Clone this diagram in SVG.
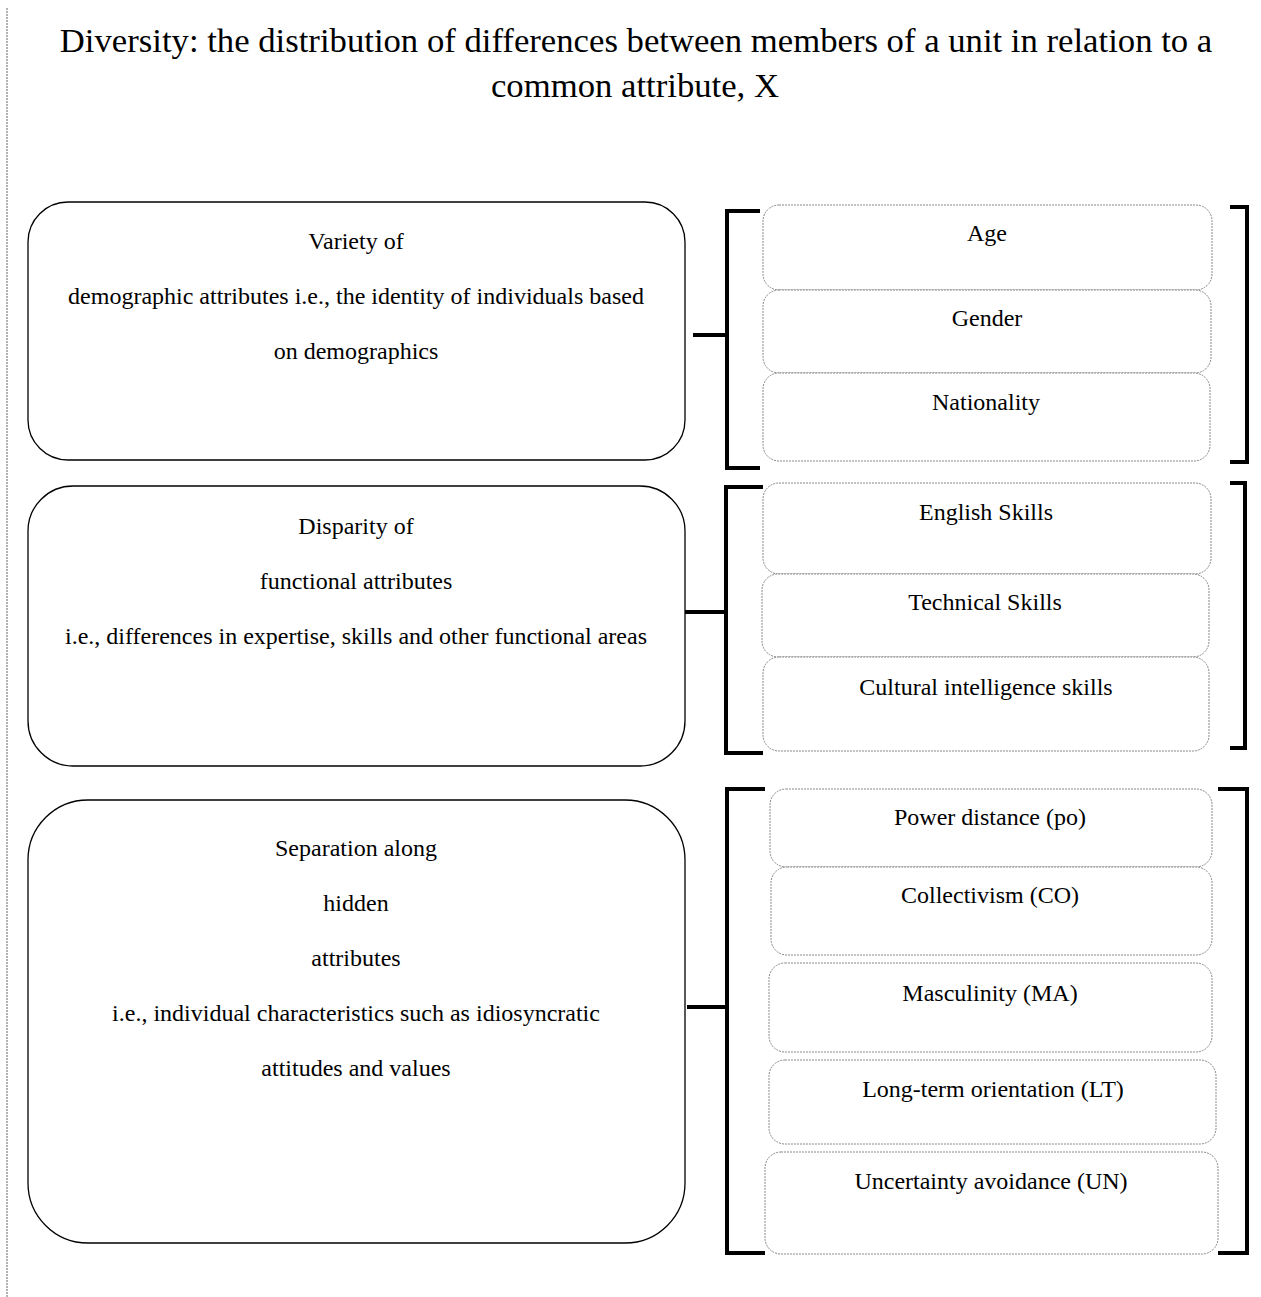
<svg xmlns="http://www.w3.org/2000/svg" width="1261" height="1297" viewBox="0 0 1261 1297">
<style>
text{font-family:"Liberation Serif","Times New Roman",serif;fill:#000;text-anchor:middle}
.t{font-size:34.7px}
.n{font-size:24px}
.s{font-size:24px}
.big{fill:#fff;stroke:#000;stroke-width:1.3}
.sm{fill:#fff;stroke:#888;stroke-width:1;stroke-dasharray:2 1}
.br{fill:none;stroke:#000;stroke-width:4}
</style>
<rect width="1261" height="1297" fill="#fff"/>
<line x1="7" y1="8" x2="7" y2="1297" stroke="#999" stroke-width="1.5" stroke-dasharray="2 1"/>
<g id="title">
<text class="t" x="636" y="52">Diversity: the distribution of differences between members of a unit in relation to a</text>
<text class="t" x="635" y="97">common attribute, X</text>
</g>
<g id="variety">
<rect class="big" x="28" y="202" width="657" height="258" rx="40"/>
<text class="n" x="356" y="249">Variety of</text>
<text class="n" x="356" y="304">demographic attributes i.e., the identity of individuals based</text>
<text class="n" x="356" y="359">on demographics</text>
</g>
<g id="disparity">
<rect class="big" x="28" y="486" width="657" height="280" rx="45"/>
<text class="n" x="356" y="534">Disparity of</text>
<text class="n" x="356" y="589">functional attributes</text>
<text class="n" x="356" y="644">i.e., differences in expertise, skills and other functional areas</text>
</g>
<g id="separation">
<rect class="big" x="28" y="800" width="657" height="443" rx="60"/>
<text class="n" x="356" y="856">Separation along</text>
<text class="n" x="356" y="911">hidden</text>
<text class="n" x="356" y="966">attributes</text>
<text class="n" x="356" y="1021">i.e., individual characteristics such as idiosyncratic</text>
<text class="n" x="356" y="1076">attitudes and values</text>
</g>
<g id="age"><rect class="sm" x="763" y="205" width="449" height="85" rx="16"/><text class="s" x="987" y="241">Age</text></g>
<g id="gender"><rect class="sm" x="763" y="290" width="448" height="83" rx="16"/><text class="s" x="987" y="326">Gender</text></g>
<g id="nationality"><rect class="sm" x="763" y="373" width="447" height="88" rx="16"/><text class="s" x="986" y="410">Nationality</text></g>
<g id="english"><rect class="sm" x="763" y="483" width="448" height="91" rx="16"/><text class="s" x="986" y="520">English Skills</text></g>
<g id="technical"><rect class="sm" x="762" y="574" width="447" height="83" rx="16"/><text class="s" x="985" y="610">Technical Skills</text></g>
<g id="cultural"><rect class="sm" x="763" y="657" width="446" height="94" rx="16"/><text class="s" x="986" y="695">Cultural intelligence skills</text></g>
<g id="power"><rect class="sm" x="770" y="789" width="442" height="78" rx="16"/><text class="s" x="990" y="825">Power distance (po)</text></g>
<g id="collectivism"><rect class="sm" x="771" y="867" width="441" height="88" rx="16"/><text class="s" x="990" y="903">Collectivism (CO)</text></g>
<g id="masculinity"><rect class="sm" x="769" y="963" width="443" height="89" rx="16"/><text class="s" x="990" y="1001">Masculinity (MA)</text></g>
<g id="longterm"><rect class="sm" x="769" y="1060" width="447" height="84" rx="16"/><text class="s" x="993" y="1097">Long-term orientation (LT)</text></g>
<g id="uncertainty"><rect class="sm" x="765" y="1152" width="453" height="102" rx="16"/><text class="s" x="991" y="1189">Uncertainty avoidance (UN)</text></g>
<g id="connectors">
<path class="br" d="M760 211 H727 V468 H760"/>
<line class="br" x1="693" y1="335" x2="727" y2="335"/>
<path class="br" d="M1230 207 H1247 V462 H1230"/>
<path class="br" d="M763 487 H726 V753 H763"/>
<line class="br" x1="685" y1="612" x2="726" y2="612"/>
<path class="br" d="M1230 483 H1245 V748 H1230"/>
<path class="br" d="M765 789 H727 V1253 H765"/>
<line class="br" x1="687" y1="1007" x2="727" y2="1007"/>
<path class="br" d="M1218 789 H1247 V1253 H1218"/>
</g>
</svg>
